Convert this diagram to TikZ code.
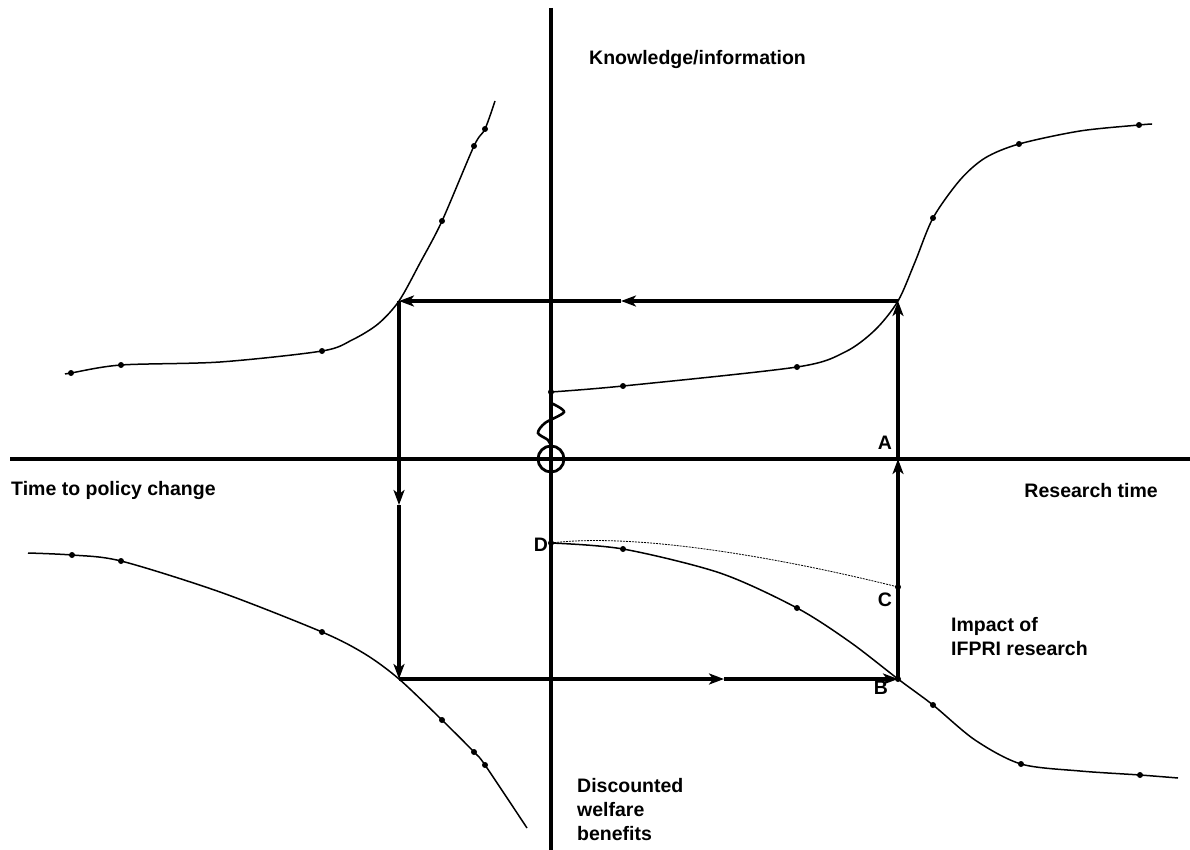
\documentclass[tikz,border=0pt]{standalone}
\usepackage{fontspec}
\setmainfont{Liberation Sans}
\usetikzlibrary{arrows,arrows.meta}

\begin{document}
\begin{tikzpicture}[x=1pt,y=-1pt,>={Stealth[length=15pt,width=11pt,inset=4pt]}]
\useasboundingbox (0,0) rectangle (1190,850);
\tikzset{lbl/.style={font=\fontsize{19.5}{24}\selectfont\bfseries,inner sep=0pt},
  box/.style={line width=3.2pt,->},
  crv/.style={line width=1.5pt}}
\color{black}
%les axes
\draw[line width=3.2pt] (551,8) -- (551,850);
\draw[line width=3.2pt] (10,459) -- (1190,459);
\draw[line width=2.8pt] (551,459) circle (13);

%les coins
\coordinate (tl) at (399,301);
\coordinate (tr) at (898,301);
\coordinate (bl) at (399,679);
\coordinate (br) at (898,679);
\coordinate (tm) at (621,301);
\coordinate (lm) at (399,505);
\coordinate (bm) at (724,679);
\coordinate (A) at (898,459);
\coordinate (C) at (898,587);
\coordinate (D) at (551,543);
\coordinate (K) at (551,392);

%le cadre
\draw[box] (tr) -- (tm);
\draw[box] (tm) -- (tl);
\draw[box] (tl) -- (lm);
\draw[box] (lm) -- (bl);
\draw[box] (bl) -- (bm);
\draw[box] (bm) -- (br);
\draw[box] (br) -- (A);
\draw[box] (A) -- (tr);

%les courbes
\draw[crv] plot[smooth] coordinates{(65,374)(71,373)(121,365)(220,362)(322,351)(352,340)(378,324)(399,301)(420,263)(442,221)(474,146)(485,129)(495,101)};
\draw[crv] plot[smooth] coordinates{(551,392)(623,386)(797,367)(845,352)(875,330)(898,301)(915,262)(933,218)(960,180)(985,158)(1019,144)(1080,131)(1139,125)(1152,124)};
\draw[crv] plot[smooth] coordinates{(551,543)(623,549)(720,573)(797,608)(850,642)(898,679)(933,705)(975,740)(1021,764)(1080,771)(1140,775)(1178,778)};
\draw[crv] plot[smooth] coordinates{(28,553)(72,555)(121,561)(220,592)(322,632)(365,654)(399,679)(442,720)(474,752)(485,765)(527,828)};
\draw[line width=0.8pt,dash pattern=on 2pt off 1pt] (D) .. controls (640,532) and (790,560) .. (C);
\draw[line width=2.6pt] plot[smooth] coordinates{(551,403)(564,412)(545,423)(538,433)(548,440)(551,446)};

%les points
\foreach \p in {(71,373),(121,365),(322,351),(442,221),(474,146),(485,129),
  (551,392),(623,386),(797,367),(933,218),(1019,144),(1139,125),
  (551,543),(623,549),(797,608),(898,679),(933,705),(1021,764),(1140,775),
  (72,555),(121,561),(322,632),(442,720),(474,752),(485,765),(898,587)}
  \fill \p circle (3);

%les textes
\node[lbl,anchor=west] (know) at (589,60) {Knowledge/information};
\node[lbl,anchor=west] (tpc) at (11,490) {Time to policy change};
\node[lbl,anchor=east] (rt) at (1158,491) {Research time};
\node[lbl,anchor=north west,align=left] (dwb) at (577,778) {Discounted\\welfare\\benefits};
\node[lbl,anchor=north west,align=left] (imp) at (951,617) {Impact of\\IFPRI research};
\node[lbl] (la) at (885,443) {A};
\node[lbl] (lb) at (881,688) {B};
\node[lbl] (lc) at (885,600) {C};
\node[lbl] (ld) at (541,545) {D};
\end{tikzpicture}
\end{document}
